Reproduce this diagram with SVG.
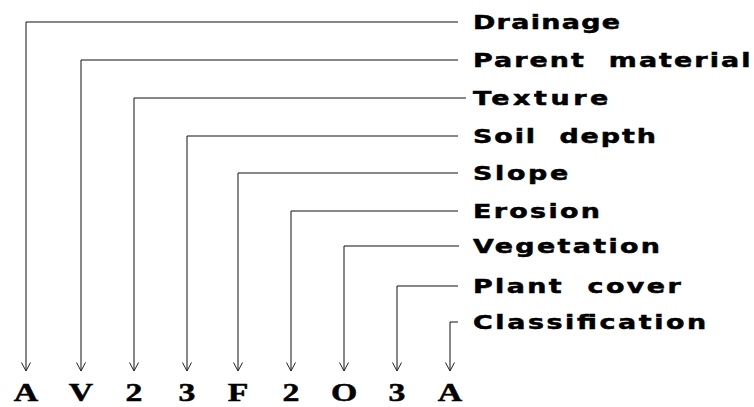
<svg xmlns="http://www.w3.org/2000/svg" width="754" height="407" viewBox="0 0 754 407">
<defs>
<marker id="arr" markerWidth="12" markerHeight="12" refX="10" refY="5" orient="auto" markerUnits="userSpaceOnUse" viewBox="0 0 12 10">
<path d="M1.5,0.5 L10,5 L1.5,9.5" fill="none" stroke="#222" stroke-width="1"/>
</marker>
</defs>
<style>
.c{fill:none;stroke:#111;stroke-width:1}
.lab{font-family:"DejaVu Sans","Liberation Sans",sans-serif;font-weight:bold;font-size:19.5px;fill:#000;stroke:#000;stroke-width:0.5}
.code{font-family:"Liberation Serif","Times New Roman",serif;font-weight:bold;font-size:25px;fill:#000;stroke:#000;stroke-width:0.5;text-anchor:middle}
</style>
<rect width="754" height="407" fill="#fff"/>
<g id="connectors">
<path class="c" d="M458,22 H26 V371" marker-end="url(#arr)"/>
<path class="c" d="M458,60 H81 V371" marker-end="url(#arr)"/>
<path class="c" d="M466,98 H134 V371" marker-end="url(#arr)"/>
<path class="c" d="M458,136 H187 V371" marker-end="url(#arr)"/>
<path class="c" d="M458,173 H238 V371" marker-end="url(#arr)"/>
<path class="c" d="M458,211 H291 V371" marker-end="url(#arr)"/>
<path class="c" d="M459,246 H344 V371" marker-end="url(#arr)"/>
<path class="c" d="M458,286 H397 V371" marker-end="url(#arr)"/>
<path class="c" d="M458,322 H450 V371" marker-end="url(#arr)"/>
</g>
<g id="labels">
<g id="drainage"><text class="lab" transform="translate(473,28.5) scale(1.38,1)" textLength="106.5" lengthAdjust="spacing">Drainage</text></g>
<g id="parent-material"><text class="lab" transform="translate(473,66.5) scale(1.38,1)" textLength="201" lengthAdjust="spacing" xml:space="preserve">Parent  material</text></g>
<g id="texture"><text class="lab" transform="translate(473,104.5) scale(1.38,1)" textLength="98" lengthAdjust="spacing">Texture</text></g>
<g id="soil-depth"><text class="lab" transform="translate(473,142.5) scale(1.38,1)" textLength="132.5" lengthAdjust="spacing" xml:space="preserve">Soil  depth</text></g>
<g id="slope"><text class="lab" transform="translate(473,179.5) scale(1.38,1)" textLength="69" lengthAdjust="spacing">Slope</text></g>
<g id="erosion"><text class="lab" transform="translate(473,217.5) scale(1.38,1)" textLength="92" lengthAdjust="spacing">Erosion</text></g>
<g id="vegetation"><text class="lab" transform="translate(473,252.5) scale(1.38,1)" textLength="135.5" lengthAdjust="spacing">Vegetation</text></g>
<g id="plant-cover"><text class="lab" transform="translate(473,292.5) scale(1.38,1)" textLength="150.5" lengthAdjust="spacing" xml:space="preserve">Plant  cover</text></g>
<g id="classification"><text class="lab" transform="translate(473,328.5) scale(1.38,1)" textLength="169" lengthAdjust="spacing">Classification</text></g>
</g>
<g id="code">
<text class="code" transform="translate(26,401) scale(1.35,1)">A</text>
<text class="code" transform="translate(81,401) scale(1.35,1)">V</text>
<text class="code" transform="translate(134,401) scale(1.35,1)">2</text>
<text class="code" transform="translate(187,401) scale(1.35,1)">3</text>
<text class="code" transform="translate(238,401) scale(1.35,1)">F</text>
<text class="code" transform="translate(291,401) scale(1.35,1)">2</text>
<text class="code" transform="translate(344,401) scale(1.35,1)">O</text>
<text class="code" transform="translate(397,401) scale(1.35,1)">3</text>
<text class="code" transform="translate(450,401) scale(1.35,1)">A</text>
</g>
</svg>
